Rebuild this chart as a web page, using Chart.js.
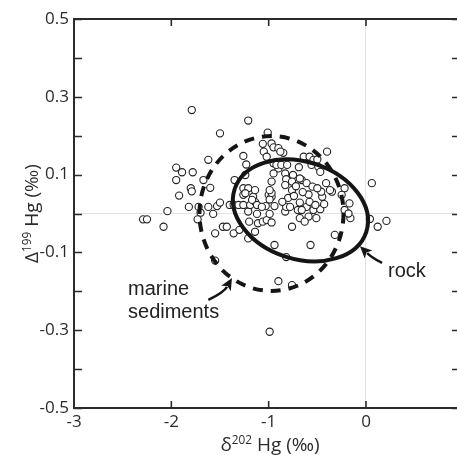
<!DOCTYPE html>
<html>
<head>
<meta charset="utf-8">
<script src="https://cdn.jsdelivr.net/npm/chart.js@4.4.1/dist/chart.umd.min.js"></script>
<style>
  html, body { margin: 0; padding: 0; background: #fff; }
  #wrap { width: 457px; height: 455px; position: relative; }
</style>
</head>
<body>
<div id="wrap"><canvas id="chart"></canvas></div>
<script>
// δ202Hg (‰) of each sample
const d202Hg = [
  -1.79, -1.50, -1.21, -1.01, -0.40, 0.06, -1.95, -1.89, -1.78, -1.62,
  -1.95, -1.67, -1.80, -1.79, -1.60, -1.92, -1.82, -1.72, -1.62, -1.53,
  -1.50, -2.04, -1.70, -1.73, -2.29, -2.25, -2.08, -1.57, -1.55, -1.47,
  -1.43, -1.36, -1.55, -1.40, -1.36, -1.31, -1.26, -1.30, -1.21, -1.14,
  -1.20, -1.11, -1.06, -1.02, -0.97, -0.99, -1.12, -1.21, -1.19, -1.14,
  -1.16, -1.26, -1.00, -0.97, -0.94, -0.83, -0.94, -1.03, -1.35, -1.26,
  -1.23, -1.24, -1.26, -1.21, -1.14, -1.17, -1.12, -1.06, -0.97, -0.95,
  -0.90, -1.05, -0.85, -1.02, -0.95, -0.90, -0.95, -0.97, -0.83, -0.75,
  -0.69, -0.82, -0.76, -0.66, -0.61, -0.55, -0.64, -0.58, -0.54, -0.50,
  -0.56, -0.49, -0.47, -0.41, -0.35, -0.22, -1.07, -0.99, -0.97, -0.82,
  -0.76, -0.68, -0.70, -0.61, -0.58, -0.54, -0.47, -0.43, -0.45, -0.22,
  -0.17, -0.25, -0.59, -0.46, -0.37, -0.68, -0.50, -0.80, -0.86, -0.74,
  -0.65, -0.72, -0.76, -0.16, -0.32, -0.57, 0.04, 0.12, 0.21, -0.90,
  -0.76, -0.99, -0.82, -0.88, -0.92, -0.87, -0.81, -0.83, -0.99, -1.24,
  -0.52, -0.59, -0.51, -0.68, -0.63, -0.78, -0.66, -0.18
];
// Δ199Hg (‰) of each sample
const D199Hg = [
  0.266, 0.206, 0.239, 0.208, 0.159, 0.078, 0.118, 0.106, 0.106, 0.138,
  0.086, 0.086, 0.065, 0.057, 0.066, 0.046, 0.017, 0.017, 0.017, 0.019,
  0.028, 0.006, 0.002, -0.015, -0.015, -0.015, -0.034, -0.001, -0.051, -0.034,
  -0.034, -0.051, -0.121, 0.022, 0.022, 0.022, 0.022, -0.042, -0.064, -0.047,
  -0.021, -0.025, -0.021, -0.017, -0.023, -0.001, -0.001, 0.005, 0.022, 0.030,
  0.043, 0.048, 0.048, 0.043, 0.019, 0.005, -0.081, 0.019, 0.086, 0.148,
  0.126, 0.099, 0.065, 0.065, 0.060, 0.035, 0.022, 0.179, 0.180, 0.170,
  0.168, 0.159, 0.156, 0.146, 0.129, 0.116, 0.103, 0.082, 0.103, 0.099,
  0.119, 0.088, 0.082, 0.086, 0.078, 0.069, 0.146, 0.146, 0.138, 0.139,
  0.125, 0.120, 0.107, 0.078, 0.056, 0.065, 0.017, 0.036, 0.053, 0.017,
  0.060, 0.028, 0.009, 0.017, 0.030, 0.009, 0.011, 0.024, 0.043, 0.009,
  0.026, 0.048, 0.049, 0.056, 0.060, 0.090, 0.065, 0.040, 0.030, 0.045,
  0.055, 0.070, -0.034, -0.012, -0.055, -0.081, -0.014, -0.034, -0.019, -0.174,
  -0.184, -0.304, -0.112, 0.159, 0.125, 0.125, 0.125, 0.073, 0.060, 0.052,
  0.022, -0.008, -0.012, -0.012, -0.021, 0.017, 0.009, 0.000
];

// ellipses: centre x, centre y, half width (x units), half height (y units), tilt (deg)
const rockEllipse = [-0.673, 0.008, 0.711, 0.125, 18];
const marineEllipse = [-0.971, 0.0, 0.740, 0.199, 0];

// annotation anchors in data units: tail, bend, tip
const rockArrow = [[0.165, -0.127], [0.062, -0.114], [-0.062, -0.084]];
const marineArrow = [[-1.620, -0.222], [-1.459, -0.202], [-1.377, -0.166]];

const tickFont = { family: "'Open Sans', sans-serif", size: 17 };
const ink = "#2b2b2b";

const points = d202Hg.map((x, i) => ({ x: x, y: D199Hg[i] }));

// draws a curved arrow with a filled head
const drawArrow = (ctx, p0, p1, p2) => {
  const ang = Math.atan2(p2.y - p1.y, p2.x - p1.x);
  const len = 12, half = 5.5;
  const bx = p2.x - len * Math.cos(ang), by = p2.y - len * Math.sin(ang);
  ctx.beginPath();
  ctx.moveTo(p0.x, p0.y);
  ctx.quadraticCurveTo(p1.x, p1.y, bx + 2 * Math.cos(ang), by + 2 * Math.sin(ang));
  ctx.stroke();
  ctx.beginPath();
  ctx.moveTo(p2.x, p2.y);
  ctx.lineTo(bx + half * Math.sin(ang), by - half * Math.cos(ang));
  ctx.lineTo(bx + 3 * Math.cos(ang), by + 3 * Math.sin(ang));
  ctx.lineTo(bx - half * Math.sin(ang), by + half * Math.cos(ang));
  ctx.closePath();
  ctx.fill();
};

// text with a superscript part
const drawSupText = (ctx, parts, size) => {
  let w = 0;
  parts.forEach((p) => {
    ctx.font = (p[1] ? size * 0.62 : size) + "px 'Open Sans', sans-serif";
    w += ctx.measureText(p[0]).width;
  });
  let cx = -w / 2;
  parts.forEach((p) => {
    ctx.font = (p[1] ? size * 0.62 : size) + "px 'Open Sans', sans-serif";
    ctx.fillText(p[0], cx, p[1] ? -size * 0.36 : 0);
    cx += ctx.measureText(p[0]).width;
  });
};

const overlay = {
  id: "overlay",
  afterDatasetsDraw(chart) {
    const { ctx, chartArea: a, scales: { x, y } } = chart;
    const px = (p) => ({ x: x.getPixelForValue(p[0]), y: y.getPixelForValue(p[1]) });
    const unitX = x.getPixelForValue(1) - x.getPixelForValue(0);
    const unitY = y.getPixelForValue(0) - y.getPixelForValue(1);

    ctx.save();
    ctx.beginPath();
    ctx.rect(a.left, a.top, a.right - a.left, a.bottom - a.top);
    ctx.clip();
    ctx.strokeStyle = "#151515";
    ctx.lineWidth = 4;

    // marine sediments (dashed)
    ctx.setLineDash([10, 8]);
    ctx.beginPath();
    ctx.ellipse(x.getPixelForValue(marineEllipse[0]), y.getPixelForValue(marineEllipse[1]),
      marineEllipse[2] * unitX, marineEllipse[3] * unitY, marineEllipse[4] * Math.PI / 180, 0, 2 * Math.PI);
    ctx.stroke();

    // rock (solid)
    ctx.setLineDash([]);
    ctx.beginPath();
    ctx.ellipse(x.getPixelForValue(rockEllipse[0]), y.getPixelForValue(rockEllipse[1]),
      rockEllipse[2] * unitX, rockEllipse[3] * unitY, rockEllipse[4] * Math.PI / 180, 0, 2 * Math.PI);
    ctx.stroke();

    // arrows
    ctx.lineWidth = 2.5;
    ctx.fillStyle = "#151515";
    drawArrow(ctx, px(rockArrow[0]), px(rockArrow[1]), px(rockArrow[2]));
    drawArrow(ctx, px(marineArrow[0]), px(marineArrow[1]), px(marineArrow[2]));

    // labels
    ctx.fillStyle = "#222";
    ctx.font = "20px 'Liberation Sans', Arial, sans-serif";
    ctx.textBaseline = "alphabetic";
    ctx.textAlign = "left";
    const r = px([0.226, -0.163]);
    ctx.fillText("rock", r.x, r.y);
    const m1 = px([-2.445, -0.210]);
    ctx.fillText("marine", m1.x, m1.y);
    const m2 = px([-2.445, -0.269]);
    ctx.fillText("sediments", m2.x, m2.y);
    ctx.restore();
  },
  afterDraw(chart) {
    const { ctx, chartArea: a, scales: { x, y } } = chart;
    ctx.save();
    ctx.strokeStyle = ink;
    ctx.lineWidth = 2;
    // top frame line
    ctx.beginPath();
    ctx.moveTo(a.left - 1, a.top);
    ctx.lineTo(a.right, a.top);
    ctx.stroke();
    // inward ticks
    ctx.lineWidth = 1.6;
    x.ticks.forEach((t) => {
      if (t.value <= x.min) return;
      const p = x.getPixelForValue(t.value);
      ctx.beginPath();
      ctx.moveTo(p, a.bottom); ctx.lineTo(p, a.bottom - 7);
      ctx.moveTo(p, a.top); ctx.lineTo(p, a.top + 7);
      ctx.stroke();
    });
    y.ticks.forEach((t) => {
      const p = Math.round(y.getPixelForValue(t.value)) + 0.5;
      ctx.beginPath();
      ctx.moveTo(a.left, p); ctx.lineTo(a.left + 8, p);
      ctx.moveTo(a.right, p); ctx.lineTo(a.right - 5, p);
      ctx.stroke();
    });
    // axis titles
    ctx.fillStyle = ink;
    ctx.textBaseline = "alphabetic";
    ctx.textAlign = "left";
    ctx.save();
    ctx.translate(270, 451);
    drawSupText(ctx, [["δ", false], ["202", true], [" Hg (‰)", false]], 19);
    ctx.restore();
    ctx.save();
    ctx.translate(38, (a.top + a.bottom) / 2);
    ctx.rotate(-Math.PI / 2);
    drawSupText(ctx, [["Δ", false], ["199", true], [" Hg (‰)", false]], 19);
    ctx.restore();
    ctx.restore();
  }
};

new Chart(document.getElementById("chart"), {
  type: "scatter",
  data: {
    datasets: [{
      label: "samples",
      data: points,
      pointStyle: "circle",
      pointRadius: 3.6,
      pointBorderWidth: 1.1,
      pointBorderColor: "#222",
      pointBackgroundColor: "#fff"
    }]
  },
  options: {
    responsive: true,
    maintainAspectRatio: false,
    animation: false,
    layout: { autoPadding: false, padding: { top: 19, right: 0, left: 0, bottom: 0 } },
    plugins: { legend: { display: false }, tooltip: { enabled: false } },
    scales: {
      x: {
        type: "linear",
        bounds: "data",
        min: -3,
        max: 0.935,
        ticks: {
          stepSize: 1,
          includeBounds: false,
          autoSkip: false,
          maxRotation: 0,
          padding: 4,
          color: ink,
          font: tickFont,
          callback: (v) => String(v)
        },
        grid: {
          drawTicks: false,
          lineWidth: 1,
          color: (c) => (c.tick && c.tick.value === 0 ? "#e3e3e3" : "rgba(0,0,0,0)")
        },
        border: { color: ink, width: 2 },
        afterFit: (s) => { s.height = 47; s.paddingRight = 0; s.paddingLeft = 0; }
      },
      y: {
        type: "linear",
        min: -0.5,
        max: 0.5,
        ticks: {
          stepSize: 0.1,
          autoSkip: false,
          padding: 5,
          color: ink,
          font: tickFont,
          callback: (v) => {
            const k = Math.round(v * 10);
            return Math.abs(k) % 2 === 1 ? (k / 10).toFixed(1) : "";
          }
        },
        grid: {
          drawTicks: false,
          lineWidth: 1,
          color: (c) => (c.tick && Math.abs(c.tick.value) < 1e-9 ? "#e3e3e3" : "rgba(0,0,0,0)")
        },
        border: { color: ink, width: 2 },
        afterFit: (s) => { s.width = 74; }
      }
    }
  },
  plugins: [overlay]
});
</script>
</body>
</html>
